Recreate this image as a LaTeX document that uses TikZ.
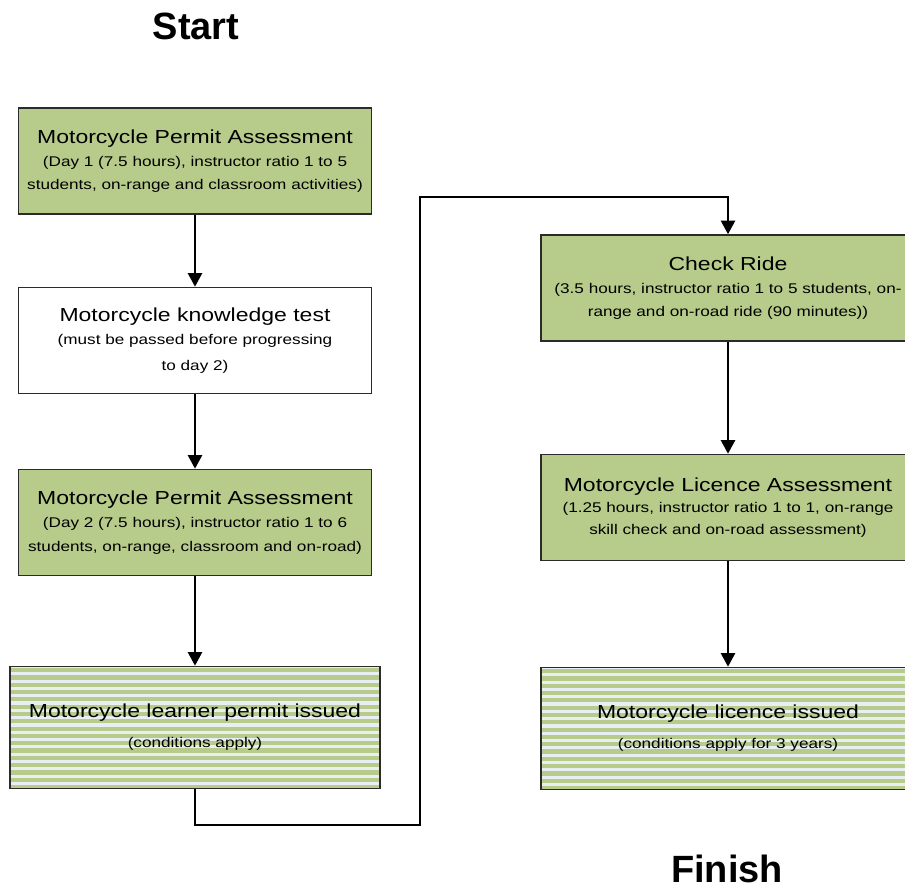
\documentclass[tikz,border=0pt]{standalone}
\usepackage{fontspec}
\setmainfont{Liberation Sans}
\newfontfamily\boxfont{Liberation Sans}[FakeStretch=1.22]
\usetikzlibrary{positioning,arrows.meta,calc}
\definecolor{mcgreen}{HTML}{B7CC8A}
\definecolor{mcpale}{HTML}{E9EEF3}
\definecolor{mcedge}{HTML}{2B2B2B}
\tikzset{
  stage/.style  ={draw=mcedge, line width=1.2pt, inner sep=0pt, align=center,
                  font=\boxfont\fontsize{10}{16.3}\selectfont},
  lstage/.style ={stage, minimum width=8.825cm, minimum height=2.65cm},
  rstage/.style ={stage, minimum width=9.35cm, minimum height=2.65cm},
  course/.style ={fill=mcgreen},
  check/.style  ={fill=white},
  issued/.style ={fill=mcpale, minimum height=3.05cm,
                  path picture={\foreach \k in {0,...,17}
                    \fill[mcgreen] ($(path picture bounding box.north west)+(0,-0.04cm-\k*0.1825cm)$)
                      rectangle ($(path picture bounding box.north east)+(0,-0.145cm-\k*0.1825cm)$);}},
  flow/.style   ={-{Triangle[length=3.4mm,width=3.6mm]}, line width=1.1pt},
  endlabel/.style={font=\bfseries\fontsize{27}{30}\selectfont, anchor=base},
}
\newcommand{\stagetitle}[1]{{\fontsize{13.4}{16.3}\selectfont #1}}

\begin{document}
\begin{tikzpicture}[x=0.025cm, y=-0.025cm]
  \useasboundingbox (0,0) rectangle (905,891);
  \node[endlabel] (start) at (196,40) {Start};
  \node[endlabel] (finish) at (727,882) {Finish};

  \node[lstage,course] (day1) at (195,161)
    {\stagetitle{Motorcycle Permit Assessment}\\(Day 1 (7.5 hours), instructor ratio 1 to 5\\students, on-range and classroom activities)};
  \node[lstage,check] (know) at (195,340.5)
    {\stagetitle{Motorcycle knowledge test}\\(must be passed before progressing\\[2pt]to day 2)};
  \node[lstage,course] (day2) at (195,522.5)
    {\stagetitle{Motorcycle Permit Assessment}\\(Day 2 (7.5 hours), instructor ratio 1 to 6\\[1pt]students, on-range, classroom and on-road)};
  \node[lstage,issued,minimum width=9.25cm] (learner) at (195,727.5)
    {\stagetitle{Motorcycle learner permit issued}\\[5pt](conditions apply)};

  \node[rstage,course] (ride) at (728,288)
    {\stagetitle{Check Ride}\\(3.5 hours, instructor ratio 1 to 5 students, on-\\range and on-road ride (90 minutes))};
  \node[rstage,course] (assess) at (728,507.5)
    {\stagetitle{Motorcycle Licence Assessment}\\[-1pt](1.25 hours, instructor ratio 1 to 1, on-range\\[-1pt]skill check and on-road assessment)};
  \node[rstage,issued] (licence) at (728,728.5)
    {\stagetitle{Motorcycle licence issued}\\[5pt](conditions apply for 3 years)};

  \coordinate (jogA) at (420,825);
  \coordinate (jogB) at (420,197);

  \draw[flow] (day1) -- (know);
  \draw[flow] (know) -- (day2);
  \draw[flow] (day2) -- (learner);
  \draw[flow] (learner.south) |- (jogA) -- (jogB) -| (ride.north);
  \draw[flow] (ride) -- (assess);
  \draw[flow] (assess) -- (licence);
\end{tikzpicture}
\end{document}
